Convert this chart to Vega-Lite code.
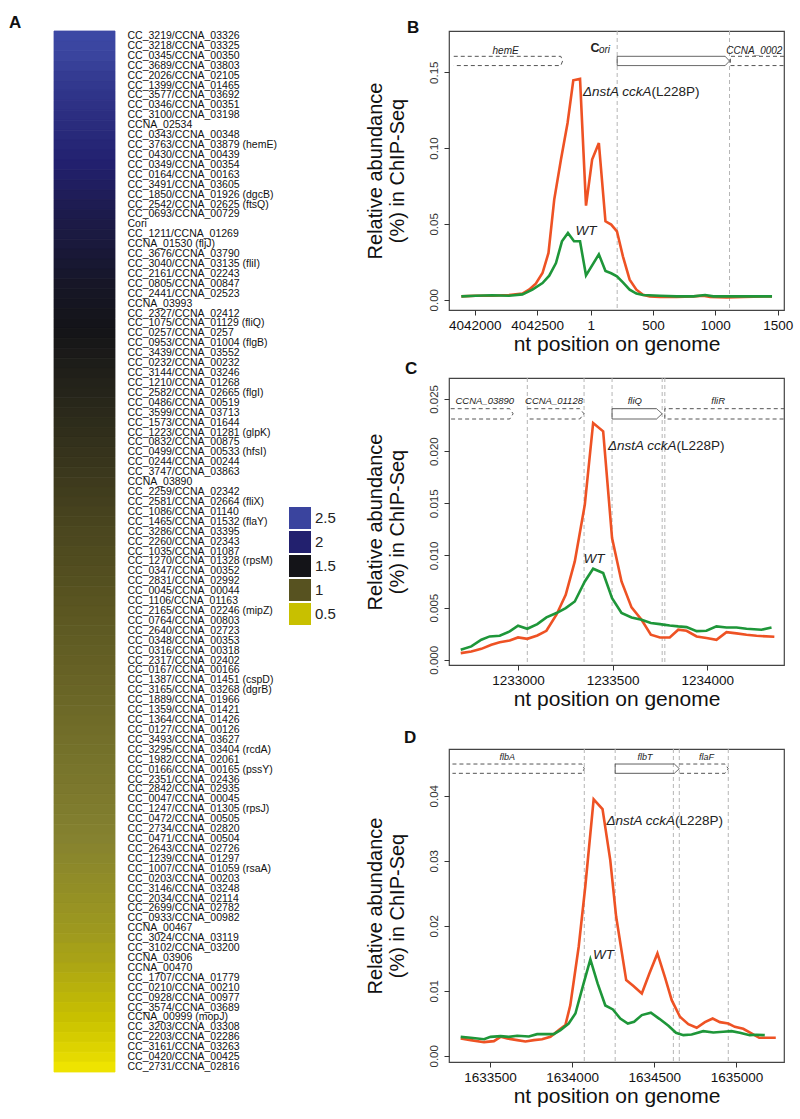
{
  "$schema": "https://vega.github.io/schema/vega-lite/v6.json",
  "background": "white",
  "padding": {"left": 9, "top": 14, "right": 5, "bottom": 5},
  "datasets": {
    "heat": [
      {"gene": "CC_3219/CCNA_03326", "fc": 2.62}, {"gene": "CC_3218/CCNA_03325", "fc": 2.56}, {"gene": "CC_0345/CCNA_00350", "fc": 2.5},
      {"gene": "CC_3689/CCNA_03803", "fc": 2.44}, {"gene": "CC_2026/CCNA_02105", "fc": 2.38}, {"gene": "CC_1399/CCNA_01465", "fc": 2.33},
      {"gene": "CC_3577/CCNA_03692", "fc": 2.28}, {"gene": "CC_0346/CCNA_00351", "fc": 2.24}, {"gene": "CC_3100/CCNA_03198", "fc": 2.2},
      {"gene": "CCNA_02534", "fc": 2.16}, {"gene": "CC_0343/CCNA_00348", "fc": 2.12}, {"gene": "CC_3763/CCNA_03879 (hemE)", "fc": 2.08},
      {"gene": "CC_0430/CCNA_00439", "fc": 2.04}, {"gene": "CC_0349/CCNA_00354", "fc": 2.0}, {"gene": "CC_0164/CCNA_00163", "fc": 1.96},
      {"gene": "CC_3491/CCNA_03605", "fc": 1.92}, {"gene": "CC_1850/CCNA_01926 (dgcB)", "fc": 1.88}, {"gene": "CC_2542/CCNA_02625 (ftsQ)", "fc": 1.84},
      {"gene": "CC_0693/CCNA_00729", "fc": 1.8}, {"gene": "Cori", "fc": 1.77}, {"gene": "CC_1211/CCNA_01269", "fc": 1.74},
      {"gene": "CCNA_01530 (fljJ)", "fc": 1.71}, {"gene": "CC_3676/CCNA_03790", "fc": 1.68}, {"gene": "CC_3040/CCNA_03135 (fliI)", "fc": 1.65},
      {"gene": "CC_2161/CCNA_02243", "fc": 1.62}, {"gene": "CC_0805/CCNA_00847", "fc": 1.59}, {"gene": "CC_2441/CCNA_02523", "fc": 1.57},
      {"gene": "CCNA_03993", "fc": 1.55}, {"gene": "CC_2327/CCNA_02412", "fc": 1.53}, {"gene": "CC_1075/CCNA_01129 (fliQ)", "fc": 1.51},
      {"gene": "CC_0257/CCNA_0257", "fc": 1.49}, {"gene": "CC_0953/CCNA_01004 (flgB)", "fc": 1.47}, {"gene": "CC_3439/CCNA_03552", "fc": 1.45},
      {"gene": "CC_0232/CCNA_00232", "fc": 1.43}, {"gene": "CC_3144/CCNA_03246", "fc": 1.41}, {"gene": "CC_1210/CCNA_01268", "fc": 1.39},
      {"gene": "CC_2582/CCNA_02665 (flgI)", "fc": 1.37}, {"gene": "CC_0486/CCNA_00519", "fc": 1.35}, {"gene": "CC_3599/CCNA_03713", "fc": 1.33},
      {"gene": "CC_1573/CCNA_01644", "fc": 1.31}, {"gene": "CC_1223/CCNA_01281 (glpK)", "fc": 1.29}, {"gene": "CC_0832/CCNA_00875", "fc": 1.27},
      {"gene": "CC_0499/CCNA_00533 (hfsI)", "fc": 1.25}, {"gene": "CC_0244/CCNA_00244", "fc": 1.23}, {"gene": "CC_3747/CCNA_03863", "fc": 1.21},
      {"gene": "CCNA_03890", "fc": 1.19}, {"gene": "CC_2259/CCNA_02342", "fc": 1.17}, {"gene": "CC_2581/CCNA_02664 (fliX)", "fc": 1.15},
      {"gene": "CC_1086/CCNA_01140", "fc": 1.13}, {"gene": "CC_1465/CCNA_01532 (flaY)", "fc": 1.11}, {"gene": "CC_3286/CCNA_03395", "fc": 1.09},
      {"gene": "CC_2260/CCNA_02343", "fc": 1.08}, {"gene": "CC_1035/CCNA_01087", "fc": 1.06}, {"gene": "CC_1270/CCNA_01328 (rpsM)", "fc": 1.05},
      {"gene": "CC_0347/CCNA_00352", "fc": 1.03}, {"gene": "CC_2831/CCNA_02992", "fc": 1.02}, {"gene": "CC_0045/CCNA_00044", "fc": 1.0},
      {"gene": "CC_1106/CCNA_01163", "fc": 0.99}, {"gene": "CC_2165/CCNA_02246 (mipZ)", "fc": 0.98}, {"gene": "CC_0764/CCNA_00803", "fc": 0.97},
      {"gene": "CC_2640/CCNA_02723", "fc": 0.96}, {"gene": "CC_0348/CCNA_00353", "fc": 0.95}, {"gene": "CC_0316/CCNA_00318", "fc": 0.94},
      {"gene": "CC_2317/CCNA_02402", "fc": 0.93}, {"gene": "CC_0167/CCNA_00166", "fc": 0.92}, {"gene": "CC_1387/CCNA_01451 (cspD)", "fc": 0.91},
      {"gene": "CC_3165/CCNA_03268 (dgrB)", "fc": 0.9}, {"gene": "CC_1889/CCNA_01966", "fc": 0.89}, {"gene": "CC_1359/CCNA_01421", "fc": 0.88},
      {"gene": "CC_1364/CCNA_01426", "fc": 0.87}, {"gene": "CC_0127/CCNA_00126", "fc": 0.86}, {"gene": "CC_3493/CCNA_03627", "fc": 0.85},
      {"gene": "CC_3295/CCNA_03404 (rcdA)", "fc": 0.84}, {"gene": "CC_1982/CCNA_02061", "fc": 0.83}, {"gene": "CC_0166/CCNA_00165 (pssY)", "fc": 0.82},
      {"gene": "CC_2351/CCNA_02436", "fc": 0.81}, {"gene": "CC_2842/CCNA_02935", "fc": 0.8}, {"gene": "CC_0047/CCNA_00045", "fc": 0.79},
      {"gene": "CC_1247/CCNA_01305 (rpsJ)", "fc": 0.78}, {"gene": "CC_0472/CCNA_00505", "fc": 0.77}, {"gene": "CC_2734/CCNA_02820", "fc": 0.76},
      {"gene": "CC_0471/CCNA_00504", "fc": 0.75}, {"gene": "CC_2643/CCNA_02726", "fc": 0.74}, {"gene": "CC_1239/CCNA_01297", "fc": 0.73},
      {"gene": "CC_1007/CCNA_01059 (rsaA)", "fc": 0.72}, {"gene": "CC_0203/CCNA_00203", "fc": 0.71}, {"gene": "CC_3146/CCNA_03248", "fc": 0.7},
      {"gene": "CC_2034/CCNA_02114", "fc": 0.69}, {"gene": "CC_2699/CCNA_02782", "fc": 0.68}, {"gene": "CC_0933/CCNA_00982", "fc": 0.67},
      {"gene": "CCNA_00467", "fc": 0.66}, {"gene": "CC_3024/CCNA_03119", "fc": 0.65}, {"gene": "CC_3102/CCNA_03200", "fc": 0.63},
      {"gene": "CCNA_03906", "fc": 0.62}, {"gene": "CCNA_00470", "fc": 0.6}, {"gene": "CC_1707/CCNA_01779", "fc": 0.58},
      {"gene": "CC_0210/CCNA_00210", "fc": 0.56}, {"gene": "CC_0928/CCNA_00977", "fc": 0.54}, {"gene": "CC_3574/CCNA_03689", "fc": 0.52},
      {"gene": "CCNA_00999 (mopJ)", "fc": 0.5}, {"gene": "CC_3203/CCNA_03308", "fc": 0.46}, {"gene": "CC_2203/CCNA_02286", "fc": 0.42},
      {"gene": "CC_3161/CCNA_03263", "fc": 0.37}, {"gene": "CC_0420/CCNA_00425", "fc": 0.32}, {"gene": "CC_2731/CCNA_02816", "fc": 0.26}
    ],
    "b_mut": [
      {"pos": 4041892, "abund": 0.0022}, {"pos": 4042005, "abund": 0.0026}, {"pos": 4042140, "abund": 0.0026}, {"pos": 4042274, "abund": 0.0031},
      {"pos": 4042382, "abund": 0.004}, {"pos": 4042435, "abund": 0.0066}, {"pos": 4042489, "abund": 0.0106}, {"pos": 4042543, "abund": 0.0176},
      {"pos": 4042591, "abund": 0.0308}, {"pos": 4042637, "abund": 0.066}, {"pos": 4042691, "abund": 0.0924}, {"pos": 4042744, "abund": 0.1165},
      {"pos": 4042790, "abund": 0.1447}, {"pos": 4042844, "abund": 0.1456}, {"pos": 4042892, "abund": 0.062}, {"pos": 4042941, "abund": 0.0924},
      {"pos": 4042995, "abund": 0.1033}, {"pos": 4043048, "abund": 0.0517}, {"pos": 4043094, "abund": 0.0495}, {"pos": 4043140, "abund": 0.0451},
      {"pos": 4043188, "abund": 0.0286}, {"pos": 4043242, "abund": 0.0132}, {"pos": 4043296, "abund": 0.0066}, {"pos": 4043349, "abund": 0.0033},
      {"pos": 4043403, "abund": 0.0022}, {"pos": 4043484, "abund": 0.0018}, {"pos": 4043618, "abund": 0.0018}, {"pos": 4043753, "abund": 0.0022},
      {"pos": 4043833, "abund": 0.0026}, {"pos": 4043887, "abund": 0.0018}, {"pos": 4044021, "abund": 0.0015}, {"pos": 4044156, "abund": 0.0018},
      {"pos": 4044384, "abund": 0.0022}
    ],
    "b_wt": [
      {"pos": 4041892, "abund": 0.0022}, {"pos": 4042005, "abund": 0.0026}, {"pos": 4042140, "abund": 0.0029}, {"pos": 4042274, "abund": 0.0026},
      {"pos": 4042382, "abund": 0.0035}, {"pos": 4042462, "abund": 0.0066}, {"pos": 4042543, "abund": 0.011}, {"pos": 4042597, "abund": 0.0158},
      {"pos": 4042651, "abund": 0.0242}, {"pos": 4042699, "abund": 0.0385}, {"pos": 4042747, "abund": 0.044}, {"pos": 4042796, "abund": 0.0385},
      {"pos": 4042844, "abund": 0.0385}, {"pos": 4042892, "abund": 0.016}, {"pos": 4042995, "abund": 0.0299}, {"pos": 4043048, "abund": 0.0189},
      {"pos": 4043094, "abund": 0.0174}, {"pos": 4043140, "abund": 0.0154}, {"pos": 4043188, "abund": 0.0114}, {"pos": 4043242, "abund": 0.0066},
      {"pos": 4043296, "abund": 0.004}, {"pos": 4043349, "abund": 0.0031}, {"pos": 4043484, "abund": 0.0026}, {"pos": 4043618, "abund": 0.0022},
      {"pos": 4043753, "abund": 0.0022}, {"pos": 4043847, "abund": 0.0031}, {"pos": 4043914, "abund": 0.0022}, {"pos": 4044021, "abund": 0.0022},
      {"pos": 4044156, "abund": 0.0022}, {"pos": 4044384, "abund": 0.0022}
    ],
    "c_mut": [
      {"pos": 1232697, "abund": 0.00064}, {"pos": 1232753, "abund": 0.0008}, {"pos": 1232806, "abund": 0.00105}, {"pos": 1232859, "abund": 0.00144},
      {"pos": 1232903, "abund": 0.00169}, {"pos": 1232956, "abund": 0.00185}, {"pos": 1233000, "abund": 0.00214}, {"pos": 1233049, "abund": 0.00201},
      {"pos": 1233102, "abund": 0.00233}, {"pos": 1233150, "abund": 0.00278}, {"pos": 1233203, "abund": 0.00432}, {"pos": 1233252, "abund": 0.00623},
      {"pos": 1233300, "abund": 0.00943}, {"pos": 1233353, "abund": 0.01487}, {"pos": 1233397, "abund": 0.0227}, {"pos": 1233450, "abund": 0.0219},
      {"pos": 1233497, "abund": 0.01167}, {"pos": 1233547, "abund": 0.00751}, {"pos": 1233600, "abund": 0.00502}, {"pos": 1233653, "abund": 0.00384},
      {"pos": 1233702, "abund": 0.0024}, {"pos": 1233750, "abund": 0.00214}, {"pos": 1233802, "abund": 0.00214}, {"pos": 1233847, "abund": 0.00288},
      {"pos": 1233891, "abund": 0.00278}, {"pos": 1233944, "abund": 0.00224}, {"pos": 1233996, "abund": 0.00208}, {"pos": 1234049, "abund": 0.00192},
      {"pos": 1234102, "abund": 0.00265}, {"pos": 1234155, "abund": 0.00253}, {"pos": 1234208, "abund": 0.0024}, {"pos": 1234261, "abund": 0.0023},
      {"pos": 1234355, "abund": 0.00221}
    ],
    "c_wt": [
      {"pos": 1232697, "abund": 0.00096}, {"pos": 1232753, "abund": 0.00128}, {"pos": 1232806, "abund": 0.00192}, {"pos": 1232850, "abund": 0.00224},
      {"pos": 1232903, "abund": 0.0023}, {"pos": 1232956, "abund": 0.00272}, {"pos": 1233000, "abund": 0.00326}, {"pos": 1233049, "abund": 0.00297},
      {"pos": 1233102, "abund": 0.00342}, {"pos": 1233150, "abund": 0.00406}, {"pos": 1233203, "abund": 0.00448}, {"pos": 1233252, "abund": 0.00496},
      {"pos": 1233300, "abund": 0.00559}, {"pos": 1233353, "abund": 0.00751}, {"pos": 1233397, "abund": 0.00873}, {"pos": 1233450, "abund": 0.00831},
      {"pos": 1233497, "abund": 0.00591}, {"pos": 1233547, "abund": 0.00448}, {"pos": 1233600, "abund": 0.00406}, {"pos": 1233653, "abund": 0.00384},
      {"pos": 1233702, "abund": 0.00352}, {"pos": 1233750, "abund": 0.00342}, {"pos": 1233802, "abund": 0.00329}, {"pos": 1233847, "abund": 0.0032},
      {"pos": 1233891, "abund": 0.00313}, {"pos": 1233944, "abund": 0.00275}, {"pos": 1233996, "abund": 0.00278}, {"pos": 1234049, "abund": 0.0032},
      {"pos": 1234102, "abund": 0.0031}, {"pos": 1234155, "abund": 0.0031}, {"pos": 1234208, "abund": 0.00297}, {"pos": 1234287, "abund": 0.00288},
      {"pos": 1234340, "abund": 0.0031}
    ],
    "d_mut": [
      {"pos": 1633322, "abund": 0.00267}, {"pos": 1633383, "abund": 0.00241}, {"pos": 1633464, "abund": 0.0021}, {"pos": 1633524, "abund": 0.00226},
      {"pos": 1633565, "abund": 0.00292}, {"pos": 1633605, "abund": 0.00267}, {"pos": 1633666, "abund": 0.00241}, {"pos": 1633716, "abund": 0.00221},
      {"pos": 1633767, "abund": 0.00241}, {"pos": 1633817, "abund": 0.00256}, {"pos": 1633868, "abund": 0.00292}, {"pos": 1633919, "abund": 0.00395},
      {"pos": 1633959, "abund": 0.00472}, {"pos": 1633989, "abund": 0.00779}, {"pos": 1634040, "abund": 0.01677}, {"pos": 1634080, "abund": 0.026},
      {"pos": 1634131, "abund": 0.03944}, {"pos": 1634185, "abund": 0.03795}, {"pos": 1634232, "abund": 0.0301}, {"pos": 1634268, "abund": 0.02138},
      {"pos": 1634329, "abund": 0.01164}, {"pos": 1634373, "abund": 0.01072}, {"pos": 1634424, "abund": 0.00959}, {"pos": 1634470, "abund": 0.01267},
      {"pos": 1634519, "abund": 0.01574}, {"pos": 1634565, "abund": 0.01205}, {"pos": 1634606, "abund": 0.00856}, {"pos": 1634656, "abund": 0.006},
      {"pos": 1634707, "abund": 0.00487}, {"pos": 1634758, "abund": 0.00431}, {"pos": 1634808, "abund": 0.00518}, {"pos": 1634855, "abund": 0.00574},
      {"pos": 1634899, "abund": 0.00518}, {"pos": 1634950, "abund": 0.00497}, {"pos": 1634990, "abund": 0.00446}, {"pos": 1635041, "abund": 0.00415},
      {"pos": 1635091, "abund": 0.00344}, {"pos": 1635138, "abund": 0.00277}, {"pos": 1635182, "abund": 0.00277}, {"pos": 1635239, "abund": 0.00277}
    ],
    "d_wt": [
      {"pos": 1633322, "abund": 0.00292}, {"pos": 1633383, "abund": 0.00277}, {"pos": 1633464, "abund": 0.00256}, {"pos": 1633504, "abund": 0.00292},
      {"pos": 1633565, "abund": 0.00303}, {"pos": 1633615, "abund": 0.00292}, {"pos": 1633666, "abund": 0.00308}, {"pos": 1633737, "abund": 0.00297},
      {"pos": 1633787, "abund": 0.00333}, {"pos": 1633838, "abund": 0.00333}, {"pos": 1633888, "abund": 0.00333}, {"pos": 1633929, "abund": 0.00395},
      {"pos": 1633979, "abund": 0.00497}, {"pos": 1634020, "abund": 0.00651}, {"pos": 1634070, "abund": 0.01113}, {"pos": 1634111, "abund": 0.01482},
      {"pos": 1634155, "abund": 0.01113}, {"pos": 1634202, "abund": 0.00774}, {"pos": 1634248, "abund": 0.00713}, {"pos": 1634293, "abund": 0.00574},
      {"pos": 1634339, "abund": 0.00497}, {"pos": 1634377, "abund": 0.00523}, {"pos": 1634424, "abund": 0.00626}, {"pos": 1634479, "abund": 0.00662},
      {"pos": 1634531, "abund": 0.00569}, {"pos": 1634586, "abund": 0.00462}, {"pos": 1634632, "abund": 0.00354}, {"pos": 1634677, "abund": 0.00318},
      {"pos": 1634727, "abund": 0.00328}, {"pos": 1634798, "abund": 0.00379}, {"pos": 1634859, "abund": 0.00359}, {"pos": 1634919, "abund": 0.00369},
      {"pos": 1634970, "abund": 0.00379}, {"pos": 1635020, "abund": 0.00354}, {"pos": 1635081, "abund": 0.00318}, {"pos": 1635121, "abund": 0.00323},
      {"pos": 1635172, "abund": 0.00318}
    ],
    "b_genes": [
      {"gene": "hemE", "kind": "flanking", "i": 0, "pos": 4041831, "abund": 0.1605}, {"gene": "hemE", "kind": "flanking", "i": 1, "pos": 4042690, "abund": 0.1605},
      {"gene": "hemE", "kind": "flanking", "i": 2, "pos": 4042704, "abund": 0.1574}, {"gene": "hemE", "kind": "flanking", "i": 3, "pos": 4042690, "abund": 0.1544},
      {"gene": "hemE", "kind": "flanking", "i": 4, "pos": 4041831, "abund": 0.1544},
      {"gene": "CCNA_00001", "kind": "annotated", "i": 0, "pos": 4043142, "abund": 0.1605}, {"gene": "CCNA_00001", "kind": "annotated", "i": 1, "pos": 4044008, "abund": 0.1605},
      {"gene": "CCNA_00001", "kind": "annotated", "i": 2, "pos": 4044043, "abund": 0.1574}, {"gene": "CCNA_00001", "kind": "annotated", "i": 3, "pos": 4044008, "abund": 0.1544},
      {"gene": "CCNA_00001", "kind": "annotated", "i": 4, "pos": 4043142, "abund": 0.1544}, {"gene": "CCNA_00001", "kind": "annotated", "i": 5, "pos": 4043142, "abund": 0.1605},
      {"gene": "CCNA_0002", "kind": "flanking", "i": 0, "pos": 4044480, "abund": 0.1605}, {"gene": "CCNA_0002", "kind": "flanking", "i": 1, "pos": 4044050, "abund": 0.1605},
      {"gene": "CCNA_0002", "kind": "flanking", "i": 2, "pos": 4044050, "abund": 0.1544}, {"gene": "CCNA_0002", "kind": "flanking", "i": 3, "pos": 4044480, "abund": 0.1544}
    ],
    "c_genes": [
      {"gene": "CCNA_03890", "kind": "flanking", "i": 0, "pos": 1232644, "abund": 0.02407}, {"gene": "CCNA_03890", "kind": "flanking", "i": 1, "pos": 1232956, "abund": 0.02407},
      {"gene": "CCNA_03890", "kind": "flanking", "i": 2, "pos": 1232974, "abund": 0.02358}, {"gene": "CCNA_03890", "kind": "flanking", "i": 3, "pos": 1232956, "abund": 0.02308},
      {"gene": "CCNA_03890", "kind": "flanking", "i": 4, "pos": 1232644, "abund": 0.02308},
      {"gene": "CCNA_01128", "kind": "flanking", "i": 0, "pos": 1233049, "abund": 0.02407}, {"gene": "CCNA_01128", "kind": "flanking", "i": 1, "pos": 1233326, "abund": 0.02407},
      {"gene": "CCNA_01128", "kind": "flanking", "i": 2, "pos": 1233349, "abund": 0.02358}, {"gene": "CCNA_01128", "kind": "flanking", "i": 3, "pos": 1233326, "abund": 0.02308},
      {"gene": "CCNA_01128", "kind": "flanking", "i": 4, "pos": 1233049, "abund": 0.02308},
      {"gene": "fliQ", "kind": "annotated", "i": 0, "pos": 1233497, "abund": 0.02407}, {"gene": "fliQ", "kind": "annotated", "i": 1, "pos": 1233732, "abund": 0.02407},
      {"gene": "fliQ", "kind": "annotated", "i": 2, "pos": 1233762, "abund": 0.02358}, {"gene": "fliQ", "kind": "annotated", "i": 3, "pos": 1233732, "abund": 0.02308},
      {"gene": "fliQ", "kind": "annotated", "i": 4, "pos": 1233497, "abund": 0.02308}, {"gene": "fliQ", "kind": "annotated", "i": 5, "pos": 1233497, "abund": 0.02407},
      {"gene": "fliR", "kind": "flanking", "i": 0, "pos": 1234410, "abund": 0.02407}, {"gene": "fliR", "kind": "flanking", "i": 1, "pos": 1233776, "abund": 0.02407},
      {"gene": "fliR", "kind": "flanking", "i": 2, "pos": 1233776, "abund": 0.02308}, {"gene": "fliR", "kind": "flanking", "i": 3, "pos": 1234410, "abund": 0.02308}
    ],
    "d_genes": [
      {"gene": "flbA", "kind": "flanking", "i": 0, "pos": 1633272, "abund": 0.04487}, {"gene": "flbA", "kind": "flanking", "i": 1, "pos": 1634060, "abund": 0.04487},
      {"gene": "flbA", "kind": "flanking", "i": 2, "pos": 1634074, "abund": 0.04415}, {"gene": "flbA", "kind": "flanking", "i": 3, "pos": 1634060, "abund": 0.04344},
      {"gene": "flbA", "kind": "flanking", "i": 4, "pos": 1633272, "abund": 0.04344},
      {"gene": "flbT", "kind": "annotated", "i": 0, "pos": 1634262, "abund": 0.04487}, {"gene": "flbT", "kind": "annotated", "i": 1, "pos": 1634622, "abund": 0.04487},
      {"gene": "flbT", "kind": "annotated", "i": 2, "pos": 1634652, "abund": 0.04415}, {"gene": "flbT", "kind": "annotated", "i": 3, "pos": 1634622, "abund": 0.04344},
      {"gene": "flbT", "kind": "annotated", "i": 4, "pos": 1634262, "abund": 0.04344}, {"gene": "flbT", "kind": "annotated", "i": 5, "pos": 1634262, "abund": 0.04487},
      {"gene": "flaF", "kind": "flanking", "i": 0, "pos": 1634652, "abund": 0.04487}, {"gene": "flaF", "kind": "flanking", "i": 1, "pos": 1634930, "abund": 0.04487},
      {"gene": "flaF", "kind": "flanking", "i": 2, "pos": 1634950, "abund": 0.04415}, {"gene": "flaF", "kind": "flanking", "i": 3, "pos": 1634930, "abund": 0.04344},
      {"gene": "flaF", "kind": "flanking", "i": 4, "pos": 1634652, "abund": 0.04344}
    ]
  },
  "concat": [
    {
      "width": 61,
      "height": 1041,
      "view": {"stroke": null},
      "title": {"text": "A", "dx": -45, "offset": -2},
      "data": {"name": "heat"},
      "mark": {"type": "rect", "strokeWidth": 0.8},
      "encoding": {
        "y": {
          "field": "gene", "type": "nominal", "sort": null,
          "scale": {"paddingInner": 0, "paddingOuter": 0},
          "axis": {"orient": "right", "title": null, "ticks": false, "labelAngle": 0, "labelAlign": "left", "labelBaseline": "middle",
                   "labelFontSize": 10.5, "labelPadding": 12, "labelColor": "#111", "labelOverlap": false, "labelLimit": 0}
        },
        "color": {
          "field": "fc", "type": "quantitative",
          "scale": {"domain": [0.2, 0.5, 0.75, 1, 1.5, 2, 2.5, 2.7],
                    "range": ["#f8ec00", "#c8c000", "#858230", "#575220", "#141418", "#22206e", "#3a449e", "#3e4aa8"],
                    "interpolate": "rgb"},
          "legend": {"type": "symbol", "values": [2.5, 2, 1.5, 1, 0.5], "orient": "none", "legendX": 235, "legendY": 476,
                     "title": null, "symbolType": "square", "symbolSize": 484, "symbolStrokeWidth": 0, "symbolOpacity": 1,
                     "labelFontSize": 15, "labelColor": "#222", "labelExpr": "datum.value + ''", "rowPadding": 2, "padding": 0, "labelOffset": 4}
        },
        "stroke": {
          "field": "fc", "type": "quantitative",
          "scale": {"domain": [0.2, 0.5, 0.75, 1, 1.5, 2, 2.5, 2.7],
                    "range": ["#f8ec00", "#c8c000", "#858230", "#575220", "#141418", "#22206e", "#3a449e", "#3e4aa8"],
                    "interpolate": "rgb"},
          "legend": null
        }
      }
    },
    {
      "spacing": 2,
      "vconcat": [
        {
          "width": 335,
          "height": 279,
          "title": {"text": "B", "dx": -42, "offset": -6},
          "layer": [
            {
              "data": {"values": [{"pos": 4043142}, {"pos": 4044043}]},
              "mark": {"type": "rule", "color": "#b5b5b5", "strokeDash": [4, 3], "strokeWidth": 1},
              "encoding": {
                "x": {"field": "pos", "type": "quantitative",
                      "scale": {"domain": [4041793, 4044480], "nice": false, "zero": false},
                      "axis": {"values": [4042000, 4042500, 4042930, 4043429, 4043929, 4044429],
                               "labelExpr": "datum.value > 4042929 ? format(datum.value - 4042929, 'd') : format(datum.value, 'd')",
                               "title": "nt position on genome"}}
              }
            },
            {
              "data": {"name": "b_genes"},
              "mark": {"type": "line", "color": "#555", "strokeWidth": 1, "clip": true},
              "encoding": {
                "x": {"field": "pos", "type": "quantitative"},
                "y": {"field": "abund", "type": "quantitative",
                      "scale": {"domain": [-0.0068, 0.1772], "nice": false, "zero": false},
                      "axis": {"values": [0, 0.05, 0.1, 0.15], "format": ".2f", "title": ["Relative abundance", "(%) in ChIP-Seq"]}},
                "detail": {"field": "gene"},
                "order": {"field": "i"},
                "strokeDash": {"field": "kind", "type": "nominal", "scale": {"domain": ["annotated", "flanking"], "range": [[1, 0], [4, 3]]}, "legend": null}
              }
            },
            {
              "data": {"values": [{"label": "hemE", "pos": 4042247, "abund": 0.1638}, {"label": "CCNA_0002", "pos": 4044242, "abund": 0.1638}, {"label": "ori", "pos": 4043040, "abund": 0.1646}]},
              "mark": {"type": "text", "fontStyle": "italic", "fontSize": 10, "color": "#222"},
              "encoding": {"x": {"field": "pos", "type": "quantitative"}, "y": {"field": "abund", "type": "quantitative"}, "text": {"field": "label"}}
            },
            {
              "data": {"values": [{"label": "C", "pos": 4042965, "abund": 0.166}]},
              "mark": {"type": "text", "fontWeight": "bold", "fontSize": 12.5, "color": "#222"},
              "encoding": {"x": {"field": "pos", "type": "quantitative"}, "y": {"field": "abund", "type": "quantitative"}, "text": {"field": "label"}}
            },
            {
              "data": {"name": "b_mut"},
              "mark": {"type": "line", "color": "#ee5224", "strokeWidth": 2.6},
              "encoding": {"x": {"field": "pos", "type": "quantitative"}, "y": {"field": "abund", "type": "quantitative"}}
            },
            {
              "data": {"name": "b_wt"},
              "mark": {"type": "line", "color": "#1e9639", "strokeWidth": 2.6},
              "encoding": {"x": {"field": "pos", "type": "quantitative"}, "y": {"field": "abund", "type": "quantitative"}}
            },
            {
              "data": {"values": [{"label": "ΔnstA cckA", "pos": 4043417, "abund": 0.1368}]},
              "mark": {"type": "text", "fontStyle": "italic", "fontSize": 13.5, "align": "right", "color": "#222"},
              "encoding": {"x": {"field": "pos", "type": "quantitative"}, "y": {"field": "abund", "type": "quantitative"}, "text": {"field": "label"}}
            },
            {
              "data": {"values": [{"label": "(L228P)", "pos": 4043417, "abund": 0.1368}]},
              "mark": {"type": "text", "fontSize": 13.5, "align": "left", "color": "#222"},
              "encoding": {"x": {"field": "pos", "type": "quantitative"}, "y": {"field": "abund", "type": "quantitative"}, "text": {"field": "label"}}
            },
            {
              "data": {"values": [{"label": "WT", "pos": 4042892, "abund": 0.0451}]},
              "mark": {"type": "text", "fontStyle": "italic", "fontSize": 13.5, "align": "center", "color": "#222"},
              "encoding": {"x": {"field": "pos", "type": "quantitative"}, "y": {"field": "abund", "type": "quantitative"}, "text": {"field": "label"}}
            }
          ]
        },
        {
          "width": 335,
          "height": 287,
          "title": {"text": "C", "dx": -44, "offset": 0},
          "layer": [
            {
              "data": {"values": [{"pos": 1233049}, {"pos": 1233349}, {"pos": 1233497}, {"pos": 1233762}, {"pos": 1233776}]},
              "mark": {"type": "rule", "color": "#b5b5b5", "strokeDash": [4, 3], "strokeWidth": 1},
              "encoding": {
                "x": {"field": "pos", "type": "quantitative",
                      "scale": {"domain": [1232635, 1234406], "nice": false, "zero": false},
                      "axis": {"values": [1233000, 1233500, 1234000], "format": "d", "title": ["nt position on genome", " "], "titleLineHeight": 14}}
              }
            },
            {
              "data": {"name": "c_genes"},
              "mark": {"type": "line", "color": "#555", "strokeWidth": 1, "clip": true},
              "encoding": {
                "x": {"field": "pos", "type": "quantitative"},
                "y": {"field": "abund", "type": "quantitative",
                      "scale": {"domain": [-0.0005, 0.02701], "nice": false, "zero": false},
                      "axis": {"values": [0, 0.005, 0.01, 0.015, 0.02, 0.025], "format": ".3f", "title": ["Relative abundance", "(%) in ChIP-Seq"]}},
                "detail": {"field": "gene"},
                "order": {"field": "i"},
                "strokeDash": {"field": "kind", "type": "nominal", "scale": {"domain": ["annotated", "flanking"], "range": [[1, 0], [4, 3]]}, "legend": null}
              }
            },
            {
              "data": {"values": [{"label": "CCNA_03890", "pos": 1232824, "abund": 0.02484}, {"label": "CCNA_01128", "pos": 1233190, "abund": 0.02484}, {"label": "fliQ", "pos": 1233617, "abund": 0.02484}, {"label": "fliR", "pos": 1234058, "abund": 0.02484}]},
              "mark": {"type": "text", "fontStyle": "italic", "fontSize": 9.5, "color": "#222"},
              "encoding": {"x": {"field": "pos", "type": "quantitative"}, "y": {"field": "abund", "type": "quantitative"}, "text": {"field": "label"}}
            },
            {
              "data": {"name": "c_mut"},
              "mark": {"type": "line", "color": "#ee5224", "strokeWidth": 2.6},
              "encoding": {"x": {"field": "pos", "type": "quantitative"}, "y": {"field": "abund", "type": "quantitative"}}
            },
            {
              "data": {"name": "c_wt"},
              "mark": {"type": "line", "color": "#1e9639", "strokeWidth": 2.6},
              "encoding": {"x": {"field": "pos", "type": "quantitative"}, "y": {"field": "abund", "type": "quantitative"}}
            },
            {
              "data": {"values": [{"label": "ΔnstA cckA", "pos": 1233838, "abund": 0.02052}]},
              "mark": {"type": "text", "fontStyle": "italic", "fontSize": 13.5, "align": "right", "color": "#222"},
              "encoding": {"x": {"field": "pos", "type": "quantitative"}, "y": {"field": "abund", "type": "quantitative"}, "text": {"field": "label"}}
            },
            {
              "data": {"values": [{"label": "(L228P)", "pos": 1233838, "abund": 0.02052}]},
              "mark": {"type": "text", "fontSize": 13.5, "align": "left", "color": "#222"},
              "encoding": {"x": {"field": "pos", "type": "quantitative"}, "y": {"field": "abund", "type": "quantitative"}, "text": {"field": "label"}}
            },
            {
              "data": {"values": [{"label": "WT", "pos": 1233402, "abund": 0.00969}]},
              "mark": {"type": "text", "fontStyle": "italic", "fontSize": 13.5, "align": "center", "color": "#222"},
              "encoding": {"x": {"field": "pos", "type": "quantitative"}, "y": {"field": "abund", "type": "quantitative"}, "text": {"field": "label"}}
            }
          ]
        },
        {
          "width": 335,
          "height": 313,
          "title": {"text": "D", "dx": -45, "offset": 2},
          "layer": [
            {
              "data": {"values": [{"pos": 1634074}, {"pos": 1634262}, {"pos": 1634616}, {"pos": 1634652}, {"pos": 1634950}]},
              "mark": {"type": "rule", "color": "#b5b5b5", "strokeDash": [4, 3], "strokeWidth": 1},
              "encoding": {
                "x": {"field": "pos", "type": "quantitative",
                      "scale": {"domain": [1633251, 1635289], "nice": false, "zero": false},
                      "axis": {"values": [1633500, 1634000, 1634500, 1635000], "format": "d", "title": "nt position on genome"}}
              }
            },
            {
              "data": {"name": "d_genes"},
              "mark": {"type": "line", "color": "#555", "strokeWidth": 1, "clip": true},
              "encoding": {
                "x": {"field": "pos", "type": "quantitative"},
                "y": {"field": "abund", "type": "quantitative",
                      "scale": {"domain": [-0.00095, 0.04718], "nice": false, "zero": false},
                      "axis": {"values": [0, 0.01, 0.02, 0.03, 0.04], "format": ".2f", "title": ["Relative abundance", "(%) in ChIP-Seq"]}},
                "detail": {"field": "gene"},
                "order": {"field": "i"},
                "strokeDash": {"field": "kind", "type": "nominal", "scale": {"domain": ["annotated", "flanking"], "range": [[1, 0], [4, 3]]}, "legend": null}
              }
            },
            {
              "data": {"values": [{"label": "flbA", "pos": 1633605, "abund": 0.0459}, {"label": "flbT", "pos": 1634444, "abund": 0.0459}, {"label": "flaF", "pos": 1634818, "abund": 0.0459}]},
              "mark": {"type": "text", "fontStyle": "italic", "fontSize": 9, "color": "#222"},
              "encoding": {"x": {"field": "pos", "type": "quantitative"}, "y": {"field": "abund", "type": "quantitative"}, "text": {"field": "label"}}
            },
            {
              "data": {"name": "d_mut"},
              "mark": {"type": "line", "color": "#ee5224", "strokeWidth": 2.6},
              "encoding": {"x": {"field": "pos", "type": "quantitative"}, "y": {"field": "abund", "type": "quantitative"}}
            },
            {
              "data": {"name": "d_wt"},
              "mark": {"type": "line", "color": "#1e9639", "strokeWidth": 2.6},
              "encoding": {"x": {"field": "pos", "type": "quantitative"}, "y": {"field": "abund", "type": "quantitative"}}
            },
            {
              "data": {"values": [{"label": "ΔnstA cckA", "pos": 1634626, "abund": 0.0361}]},
              "mark": {"type": "text", "fontStyle": "italic", "fontSize": 13.5, "align": "right", "color": "#222"},
              "encoding": {"x": {"field": "pos", "type": "quantitative"}, "y": {"field": "abund", "type": "quantitative"}, "text": {"field": "label"}}
            },
            {
              "data": {"values": [{"label": "(L228P)", "pos": 1634626, "abund": 0.0361}]},
              "mark": {"type": "text", "fontSize": 13.5, "align": "left", "color": "#222"},
              "encoding": {"x": {"field": "pos", "type": "quantitative"}, "y": {"field": "abund", "type": "quantitative"}, "text": {"field": "label"}}
            },
            {
              "data": {"values": [{"label": "WT", "pos": 1634191, "abund": 0.01549}]},
              "mark": {"type": "text", "fontStyle": "italic", "fontSize": 13.5, "align": "center", "color": "#222"},
              "encoding": {"x": {"field": "pos", "type": "quantitative"}, "y": {"field": "abund", "type": "quantitative"}, "text": {"field": "label"}}
            }
          ]
        }
      ]
    }
  ],
  "columns": 2,
  "align": "none",
  "spacing": 87,
  "config": {
    "font": "Liberation Sans",
    "view": {"stroke": "#444", "strokeWidth": 1.2},
    "title": {"fontSize": 17, "fontWeight": "bold", "anchor": "start", "frame": "group", "color": "#111"},
    "axis": {"grid": false, "domain": false, "tickColor": "#333", "tickSize": 5, "labelColor": "#111", "titleColor": "#111", "titleFontWeight": "normal"},
    "axisX": {"labelFontSize": 13.5, "labelPadding": 3, "titleFontSize": 21, "titlePadding": 2, "labelFlush": false, "labelOverlap": false},
    "axisY": {"labelFontSize": 11.5, "labelAngle": 270, "labelAlign": "center", "labelBaseline": "bottom", "labelPadding": 5, "labelColor": "#333",
              "titleFontSize": 20, "titleLineHeight": 22, "titlePadding": 21}
  }
}
